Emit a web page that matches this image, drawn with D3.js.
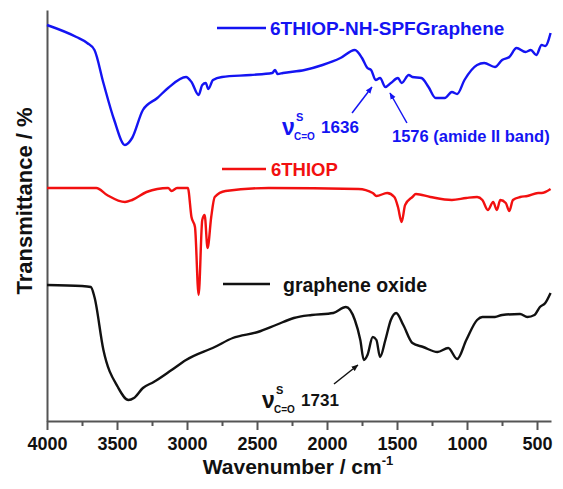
<!DOCTYPE html>
<html>
<head>
<meta charset="utf-8">
<script src="https://cdn.jsdelivr.net/npm/d3@7"></script>
<style>
  body { margin: 0; background: #fff; }
  text { font-family: "Liberation Sans", Arial, sans-serif; font-weight: bold; }
</style>
</head>
<body>
<div id="chart"></div>
<script>
// FTIR spectra, transmittance in arbitrary units (curves are offset)

// graphene oxide
const goWn = [4000, 3751, 3687, 3661, 3597, 3494, 3418, 3379, 3315, 3238, 3110, 3007, 2802, 2673, 2494, 2365, 2237, 2109, 1955, 1865, 1801, 1762, 1737, 1711, 1673, 1647, 1621, 1583, 1544, 1506, 1455, 1390, 1313, 1211, 1134, 1070, 1005, 928, 890, 800, 749, 621, 569, 518, 479, 441, 403];
const goT = [136, 135, 134, 124, 71, 34, 21, 23, 33, 39, 51, 61, 74, 83, 89, 96, 103, 106, 108, 114, 101, 81, 61, 66, 84, 81, 64, 81, 101, 108, 96, 78, 74, 69, 73, 62, 81, 101, 104, 104, 106, 107, 104, 106, 114, 118, 128];

// 6THIOP
const thiopWn = [4000, 3648, 3571, 3443, 3392, 3289, 3135, 3110, 3071, 2994, 2968, 2943, 2917, 2891, 2874, 2853, 2827, 2802, 2725, 2417, 1775, 1673, 1647, 1570, 1519, 1493, 1467, 1442, 1390, 1365, 1262, 1108, 1005, 928, 890, 851, 813, 787, 762, 723, 698, 672, 620, 569, 492, 467, 403];
const thiopT = [233, 233, 226, 219, 221, 229, 233, 230, 233, 233, 204, 194, 126, 201, 206, 173, 204, 224, 230, 233, 232, 228, 225, 228, 224, 214, 199, 216, 224, 227, 224, 221, 223, 224, 221, 211, 219, 211, 221, 218, 210, 221, 224, 225, 228, 228, 232];

// 6THIOP-NH-SPFGraphene
const spfWn = [4000, 3790, 3713, 3661, 3597, 3520, 3443, 3392, 3315, 3212, 3135, 3007, 2968, 2917, 2891, 2866, 2848, 2814, 2750, 2545, 2391, 2371, 2353, 2314, 2160, 2032, 1904, 1801, 1750, 1711, 1685, 1652, 1621, 1583, 1544, 1493, 1467, 1416, 1390, 1326, 1275, 1224, 1159, 1108, 1070, 1018, 928, 877, 800, 749, 698, 646, 582, 544, 505, 467, 441, 403];
const spfT = [396, 384, 378, 371, 338, 301, 276, 283, 311, 323, 333, 344, 339, 326, 336, 338, 332, 341, 344, 346, 348, 351, 347, 348, 351, 356, 363, 371, 363, 353, 351, 341, 343, 334, 338, 343, 338, 346, 344, 343, 334, 323, 323, 329, 327, 341, 356, 358, 354, 361, 364, 373, 369, 371, 366, 376, 375, 388];

const majorTicks = [4000, 3500, 3000, 2500, 2000, 1500, 1000, 500];
const minorTicks = [3750, 3250, 2750, 2250, 1750, 1250, 750];

const series = [
  {name: "6THIOP-NH-SPFGraphene", wn: spfWn, t: spfT, color: "#1414f2"},
  {name: "6THIOP", wn: thiopWn, t: thiopT, color: "#f21010"},
  {name: "graphene oxide", wn: goWn, t: goT, color: "#111"}
];

const width = 563, height = 489;

const x = d3.scaleLinear().domain([4000, 400]).range([47, 551]);
const y = d3.scaleLinear().domain([0, 411]).range([421, 10]);

const svg = d3.select("#chart").append("svg")
  .attr("width", width)
  .attr("height", height);

const defs = svg.append("defs");
series.forEach((s, i) => {
  defs.append("marker")
    .attr("id", "arrow" + i)
    .attr("viewBox", "0 0 10 10")
    .attr("refX", 9).attr("refY", 5)
    .attr("markerWidth", 7).attr("markerHeight", 7)
    .attr("markerUnits", "userSpaceOnUse")
    .attr("orient", "auto")
    .append("path")
    .attr("d", "M0,1 L10,5 L0,9 z")
    .attr("fill", s.color);
});

// x axis: major + minor ticks
const xAxis = svg.append("g")
  .attr("class", "xaxis")
  .attr("transform", "translate(0," + y(0) + ")")
  .call(d3.axisBottom(x).tickValues(majorTicks).tickFormat(d3.format("d"))
    .tickSize(9).tickSizeOuter(0).tickPadding(7));
xAxis.attr("font-size", 18)
  .attr("font-family", "'Liberation Sans', Arial, sans-serif")
  .attr("font-weight", "bold");
xAxis.select(".domain").attr("stroke", "#555").attr("stroke-width", 2);
xAxis.selectAll(".tick line").attr("stroke", "#555").attr("stroke-width", 2);
xAxis.selectAll(".tick text").attr("fill", "#111");

const xMinor = svg.append("g")
  .attr("transform", "translate(0," + y(0) + ")")
  .call(d3.axisBottom(x).tickValues(minorTicks).tickSize(5).tickSizeOuter(0).tickFormat(""));
xMinor.select(".domain").remove();
xMinor.selectAll(".tick line").attr("stroke", "#555").attr("stroke-width", 2);

// y axis: bare line
const yAxis = svg.append("g")
  .attr("transform", "translate(" + x(4000) + ",0)")
  .call(d3.axisLeft(y).tickValues([]).tickSizeOuter(0));
yAxis.select(".domain").attr("stroke", "#555").attr("stroke-width", 2);

// curves
const line = d3.line()
  .x(d => x(d[0]))
  .y(d => y(d[1]))
  .curve(d3.curveMonotoneX);

series.forEach(s => {
  const pts = s.wn.map((w, i) => [w, s.t[i]]);
  svg.append("path")
    .datum(pts)
    .attr("fill", "none")
    .attr("stroke", s.color)
    .attr("stroke-width", 2.4)
    .attr("stroke-linejoin", "round")
    .attr("d", line);
});

// legends (placed beside each curve)
const legendPos = [
  {x1: 217, x2: 266, y: 28, tx: 270, ty: 35, size: 19},
  {x1: 222, x2: 266, y: 169, tx: 271, ty: 176, size: 18.5},
  {x1: 223, x2: 270, y: 284, tx: 283, ty: 292, size: 19.5}
];
series.forEach((s, i) => {
  const p = legendPos[i];
  svg.append("line")
    .attr("x1", p.x1).attr("x2", p.x2)
    .attr("y1", p.y).attr("y2", p.y)
    .attr("stroke", s.color).attr("stroke-width", 2.6);
  svg.append("text")
    .attr("x", p.tx).attr("y", p.ty)
    .attr("fill", s.color)
    .style("font-size", p.size + "px")
    .text(s.name);
});

// annotations
function nuLabel(px, py, num, color) {
  const g = svg.append("g").attr("fill", color);
  g.append("text").attr("x", px).attr("y", py).style("font-size", "23px").text("ν");
  g.append("text").attr("x", px + 14).attr("y", py - 14).style("font-size", "11px").text("S");
  g.append("text").attr("x", px + 12).attr("y", py + 5).style("font-size", "10px").text("C=O");
  g.append("text").attr("x", px + 39).attr("y", py - 2).style("font-size", "17px").text(num);
}
function arrow(w1, t1, w2, t2, idx) {
  svg.append("line")
    .attr("x1", x(w1)).attr("y1", y(t1))
    .attr("x2", x(w2)).attr("y2", y(t2))
    .attr("stroke", series[idx].color)
    .attr("stroke-width", 1.5)
    .attr("marker-end", "url(#arrow" + idx + ")");
}

nuLabel(x(2321), y(286), "1636", series[0].color);
arrow(1821, 308, 1679, 334, 0);
arrow(1429, 298, 1550, 328, 0);
svg.append("text")
  .attr("x", x(1536)).attr("y", y(279))
  .attr("fill", series[0].color)
  .style("font-size", "16.5px")
  .text("1576 (amide II band)");

nuLabel(x(2464), y(13), "1731", series[2].color);
arrow(1950, 37, 1779, 56, 2);

// axis titles
svg.append("text")
  .attr("x", 298).attr("y", 474)
  .attr("text-anchor", "middle")
  .attr("fill", "#111")
  .style("font-size", "21px")
  .html('Wavenumber / cm<tspan dy="-9" style="font-size:13px">-1</tspan>');

svg.append("text")
  .attr("text-anchor", "middle")
  .attr("transform", "translate(32,201)rotate(-90)")
  .attr("fill", "#111")
  .style("font-size", "22px")
  .text("Transmittance / %");
</script>
</body>
</html>
